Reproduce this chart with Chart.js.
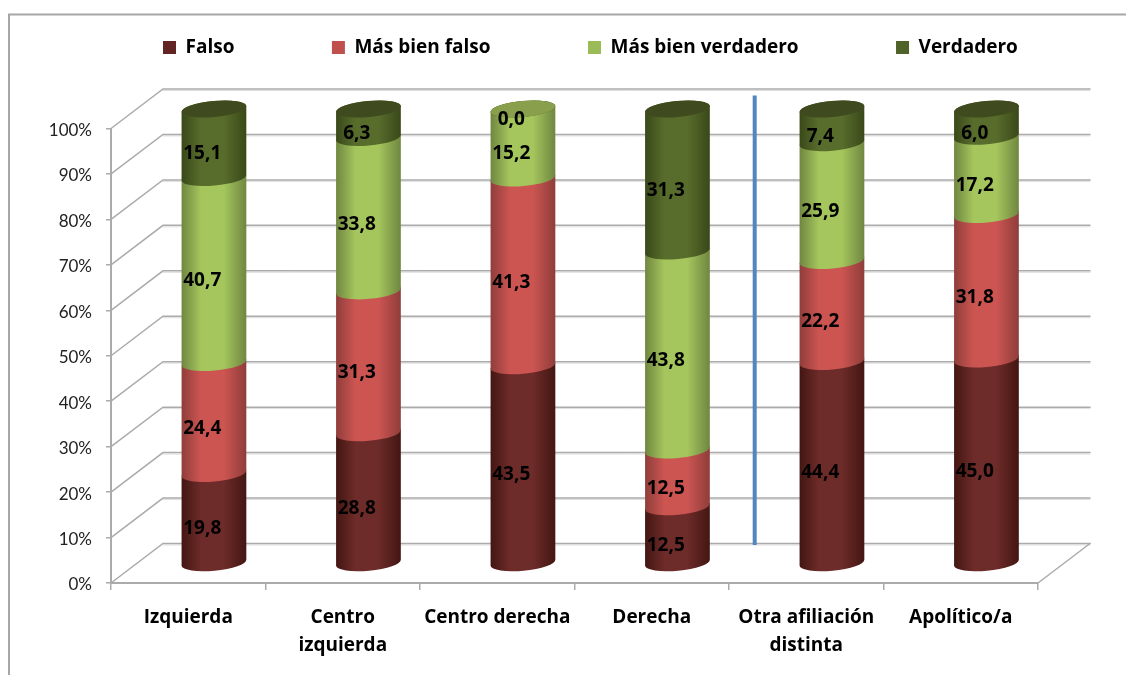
<!DOCTYPE html>
<html>
<head>
<meta charset="utf-8">
<title>Afiliación</title>
<script src="https://cdn.jsdelivr.net/npm/chart.js@4/dist/chart.umd.min.js"></script>
<style>
  html, body { margin: 0; padding: 0; background: #fff; }
  canvas { display: block; }
</style>
</head>
<body>
<canvas id="chart" width="1126" height="675"></canvas>
<script>
const categories = [['Izquierda'], ['Centro', 'izquierda'], 'Centro derecha', 'Derecha', ['Otra afiliación', 'distinta'], 'Apolítico/a'];
const falso = [19.8, 28.8, 43.5, 12.5, 44.4, 45.0];
const masBienFalso = [24.4, 31.3, 41.3, 12.5, 22.2, 31.8];
const masBienVerdadero = [40.7, 33.8, 15.2, 43.8, 25.9, 17.2];
const verdadero = [15.1, 6.3, 0.0, 31.3, 7.4, 6.0];
const seriesNames = ['Falso', 'Más bien falso', 'Más bien verdadero', 'Verdadero'];

const allSeries = [falso, masBienFalso, masBienVerdadero, verdadero];
const baseColors = ['#632523', '#c0504d', '#9bbb59', '#4f6228'];
const edgeColors = ['#431612', '#8f3d3a', '#6f8640', '#3a4819'];
const midColors = ['#6d2b29', '#cc5552', '#a5c65d', '#586d2c'];
const capColors = ['#4a1a17', '#a04440', '#8a9f4c', '#3f4b1e'];

// 3d look: the bars stand half way into the floor, back wall further behind
const barShift = { x: 25.7, y: -19.5 };
const wallShift = { x: 52, y: -39.5 };
const barRx = 32.5, barRy = 8, barTilt = -0.09;
const gridColor = '#ababab';
const boldFont = 'Open Sans';

// 100% stacked, as the source values do not always add up to exactly 100
const percent = (series, i) => {
  const total = allSeries.reduce((sum, s) => sum + s[i], 0);
  return series[i] / total * 100;
};

class CylinderController extends Chart.BarController {
  draw() {
    // chart.js draws the last dataset first, cylinders need the bottom segment first
    if (this.index !== 0) return;
    const ctx = this.chart.ctx;
    allSeries.forEach((series, idx) => {
      this.chart.getDatasetMeta(idx).data.forEach(el => {
        const grad = ctx.createLinearGradient(el.x - barRx, 0, el.x + barRx, 0);
        grad.addColorStop(0, edgeColors[idx]);
        grad.addColorStop(0.3, midColors[idx]);
        grad.addColorStop(0.65, midColors[idx]);
        grad.addColorStop(1, edgeColors[idx]);
        ctx.beginPath();
        ctx.ellipse(el.x, el.base, barRx, barRy, barTilt, Math.PI, 0, true);
        ctx.ellipse(el.x, el.y, barRx, barRy, barTilt, 0, -Math.PI, true);
        ctx.closePath();
        ctx.fillStyle = grad;
        ctx.fill();
      });
    });
  }
}
CylinderController.id = 'cylinder';
CylinderController.defaults = Chart.BarController.defaults;
CylinderController.overrides = Chart.BarController.overrides;
Chart.register(CylinderController);

const wallPlugin = {
  id: 'wall',
  beforeLayout(chart) {
    // legend sits in its own place above the plot, it should not push the plot down
    const lg = chart.legend;
    if (!lg.patched) {
      const fit = lg.fit.bind(lg);
      lg.fit = () => { lg.maxWidth = chart.width + 200; fit(); lg.height = 0; };
      lg.patched = true;
    }
  },
  afterLayout(chart) {
    const lg = chart.legend;
    const pad = lg.options.labels.padding;
    lg.top = 38 - pad;
    lg.left = 163 - pad;
    lg.right = chart.width + 200;
  },
  beforeDatasetsDraw(chart) {
    const { ctx, scales: { x, y } } = chart;
    ctx.save();
    ctx.lineCap = 'round';
    y.ticks.forEach(t => {
      const py = y.getPixelForValue(t.value);
      ctx.strokeStyle = '#dedede';
      ctx.lineWidth = 1;
      ctx.beginPath();
      ctx.moveTo(x.left + wallShift.x, py + wallShift.y + 1.5);
      ctx.lineTo(x.right + wallShift.x, py + wallShift.y + 1.5);
      ctx.stroke();
      ctx.strokeStyle = gridColor;
      ctx.lineWidth = 1.5;
      ctx.beginPath();
      ctx.moveTo(x.left, py);
      ctx.lineTo(x.left + wallShift.x, py + wallShift.y);
      ctx.lineTo(x.right + wallShift.x, py + wallShift.y);
      ctx.stroke();
    });
    // floor, right hand edge
    const py0 = y.getPixelForValue(0);
    ctx.beginPath();
    ctx.moveTo(x.right, py0);
    ctx.lineTo(x.right + wallShift.x, py0 + wallShift.y);
    ctx.stroke();
    ctx.restore();
    // bars get drawn shifted until afterDatasetsDraw
    ctx.save();
    ctx.translate(barShift.x, barShift.y);
  },
  afterDatasetsDraw(chart) {
    const { ctx, scales: { x, y } } = chart;
    // top lid of each cylinder
    const lastIdx = allSeries.length - 1;
    chart.getDatasetMeta(lastIdx).data.forEach((el, i) => {
      ctx.beginPath();
      ctx.ellipse(el.x, el.y, barRx, barRy, barTilt, 0, Math.PI * 2);
      ctx.fillStyle = verdadero[i] > 0 ? capColors[lastIdx] : capColors[lastIdx - 1];
      ctx.fill();
    });
    ctx.restore();

    ctx.save();
    ctx.font = 'bold 19px "' + boldFont + '"';
    ctx.fillStyle = '#000';
    ctx.textAlign = 'center';
    ctx.textBaseline = 'middle';
    allSeries.forEach((series, s) => {
      chart.getDatasetMeta(s).data.forEach((el, i) => {
        const mid = (el.y + el.base) / 2;
        ctx.fillText(series[i].toFixed(1).replace('.', ','), el.x + 14, mid - 9);
      });
    });
    // hand drawn separator between Derecha and Otra afiliación
    const sepX = (x.getPixelForValue(3) + x.getPixelForValue(4)) / 2 + barShift.x;
    ctx.strokeStyle = '#5385be';
    ctx.lineWidth = 4;
    ctx.beginPath();
    ctx.moveTo(sepX, y.getPixelForValue(100) - 33);
    ctx.lineTo(sepX, y.getPixelForValue(0) - 38);
    ctx.stroke();
    ctx.restore();
  },
  afterDraw(chart) {
    const ctx = chart.ctx;
    ctx.save();
    ctx.strokeStyle = '#a6a6a6';
    ctx.lineWidth = 2;
    ctx.beginPath();
    ctx.moveTo(9, 675);
    ctx.lineTo(9, 14.5);
    ctx.lineTo(1126, 14.5);
    ctx.stroke();
    ctx.restore();
  }
};

new Chart(document.getElementById('chart'), {
  type: 'cylinder',
  data: {
    labels: categories,
    datasets: allSeries.map((series, s) => ({
      label: seriesNames[s],
      data: series.map((v, i) => percent(series, i)),
      backgroundColor: baseColors[s],
      borderWidth: 0,
      barThickness: 65,
      clip: false
    }))
  },
  options: {
    responsive: false,
    animation: false,
    layout: { padding: { left: 0, top: 128.5, right: 88, bottom: 0 } },
    plugins: {
      tooltip: { enabled: false },
      legend: {
        position: 'top',
        align: 'start',
        labels: {
          boxWidth: 13,
          boxHeight: 13,
          padding: 97.5,
          color: '#000',
          font: { family: boldFont, size: 19, weight: 'bold' }
        }
      }
    },
    scales: {
      x: {
        stacked: true,
        afterFit: scale => { scale.height = 92; },
        grid: { drawOnChartArea: false, color: gridColor, lineWidth: 1.5, tickLength: 7, offset: true },
        border: { color: gridColor, width: 2 },
        ticks: {
          color: '#000',
          padding: 14,
          maxRotation: 0,
          autoSkip: false,
          font: { family: boldFont, size: 19, weight: 'bold', lineHeight: 1.46 }
        }
      },
      y: {
        stacked: true,
        min: 0,
        max: 100,
        afterFit: scale => { scale.width = 111; },
        grid: { drawOnChartArea: false, color: gridColor, lineWidth: 1.5, tickLength: 5 },
        border: { color: gridColor, width: 2 },
        ticks: {
          stepSize: 10,
          color: '#222',
          padding: 14,
          labelOffset: 2,
          font: { family: 'Lato', size: 17 },
          callback: v => v + '%'
        }
      }
    }
  },
  plugins: [wallPlugin]
});
</script>
</body>
</html>
